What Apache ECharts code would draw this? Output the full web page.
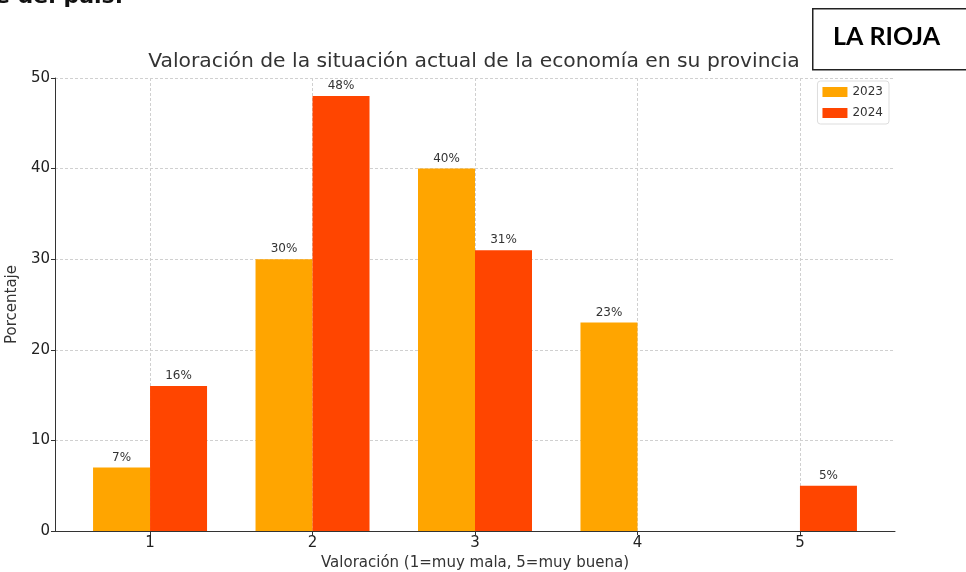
<!DOCTYPE html>
<html>
<head>
<meta charset="utf-8">
<script src="https://cdn.jsdelivr.net/npm/echarts@6/dist/echarts.min.js"></script>
<style>html,body{margin:0;padding:0;background:#fff;}#c{width:966px;height:572px;}</style>
</head>
<body>
<div id="c"></div>
<script>
const categories = [1, 2, 3, 4, 5];
const values2023 = [7, 30, 40, 23, 0];
const values2024 = [16, 48, 31, 0, 5];
const yTicks = [0, 10, 20, 30, 40, 50];
const seriesNames = ['2023', '2024'];

const chart = echarts.init(document.getElementById('c'), null, {renderer: 'canvas'});
const font = 'DejaVu Sans';
const labelOpt = {
  show: true, position: 'top', distance: 4, color: '#333', fontFamily: font, fontSize: 12,
  formatter: p => p.value[1] === 0 ? '' : p.value[1] + '%'
};
const gridDash = {show: true, lineStyle: {color: '#d0d0d0', type: [3, 2], width: 1}};
chart.setOption({
  animation: false,
  backgroundColor: '#fff',
  title: {
    text: 'Valoración de la situación actual de la economía en su provincia',
    left: 469, top: 47, textAlign: 'center',
    textStyle: {fontFamily: font, fontSize: 20.3, fontWeight: 'normal', color: '#333'}
  },
  legend: {
    data: seriesNames, orient: 'vertical', right: 77, top: 81,
    itemWidth: 25, itemHeight: 10, itemGap: 9, padding: [5, 6, 5, 5],
    borderColor: '#ddd', borderWidth: 1, borderRadius: 3,
    textStyle: {fontFamily: font, fontSize: 12, color: '#333'},
    icon: 'rect'
  },
  grid: {left: 55, right: 71, top: 78, bottom: 41, containLabel: false, outerBoundsMode: 'none'},
  xAxis: {
    type: 'value', min: 0.415, max: 5.585,
    name: 'Valoración (1=muy mala, 5=muy buena)', nameLocation: 'middle', nameGap: 25,
    nameTextStyle: {fontFamily: font, fontSize: 15, color: '#333'},
    axisLine: {show: true, lineStyle: {color: '#333', width: 1}},
    axisTick: {show: true, length: 4, customValues: categories, lineStyle: {color: '#333'}},
    axisLabel: {customValues: categories, fontFamily: font, fontSize: 15, color: '#222', margin: 5},
    splitLine: gridDash
  },
  yAxis: {
    type: 'value', min: 0, max: 50, interval: 10,
    name: 'Porcentaje', nameLocation: 'middle', nameGap: 31,
    nameTextStyle: {fontFamily: font, fontSize: 15, color: '#333'},
    axisLine: {show: true, lineStyle: {color: '#333', width: 1}},
    axisTick: {show: true, length: 4, lineStyle: {color: '#333'}},
    axisLabel: {fontFamily: font, fontSize: 15, color: '#222', margin: 5,
      formatter: v => yTicks.includes(v) ? String(v) : ''},
    splitLine: gridDash
  },
  series: [
    {name: seriesNames[0], type: 'bar', barWidth: 57, barGap: '0%',
     itemStyle: {color: '#FFA500'}, label: labelOpt,
     data: categories.map((c, i) => [c, values2023[i]])},
    {name: seriesNames[1], type: 'bar', barWidth: 57, barGap: '0%',
     itemStyle: {color: '#FF4500'}, label: labelOpt,
     data: categories.map((c, i) => [c, values2024[i]])}
  ],
  graphic: [
    {type: 'text', left: -5, top: -14, z: 10,
     style: {text: 'e del país.', font: 'bold 22px "DejaVu Sans"', fill: '#111'}},
    {type: 'rect', left: 812, top: 8, z: 10,
     shape: {x: 0, y: 0, width: 160, height: 61},
     style: {fill: '#fff', stroke: '#222', lineWidth: 1.5}},
    {type: 'text', left: 833, top: 24, z: 11,
     style: {text: 'LA RIOJA', font: 'bold 25px Lato', fill: '#000'}}
  ]
});
</script>
</body>
</html>
